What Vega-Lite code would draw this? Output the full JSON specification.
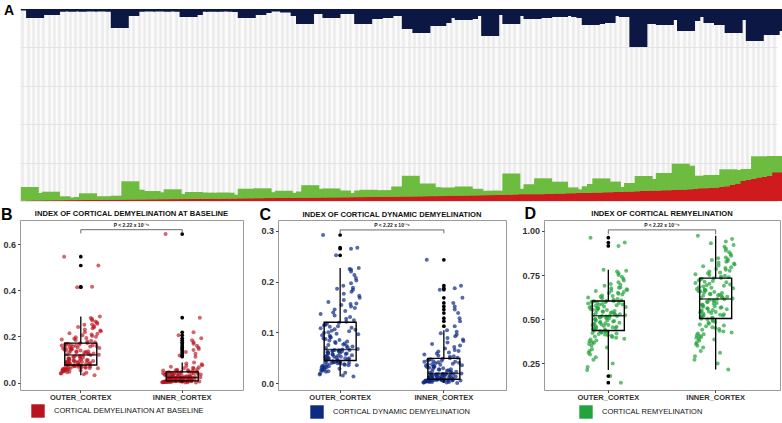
{
"$schema": "https://vega.github.io/schema/vega-lite/v6.json",
"padding": {"left": 0, "top": 3, "right": 0, "bottom": 0},
"config": {
  "font": "Liberation Sans",
  "view": {"stroke": "#9a9a9a", "strokeWidth": 1},
  "axis": {"labelFont": "Liberation Sans", "labelFontWeight": "bold", "labelColor": "#333333", "tickColor": "#444444", "tickSize": 2.5, "domain": false, "grid": false, "titleFont": "Liberation Sans"},
  "legend": {"symbolType": "square", "symbolSize": 180, "symbolOpacity": 1, "symbolStrokeWidth": 0, "labelFont": "Liberation Sans", "labelFontSize": 7.5, "labelColor": "#111111", "labelOffset": 9, "padding": 0},
  "title": {"font": "Liberation Sans", "fontSize": 7.6, "fontWeight": "bold", "color": "#111111", "offset": -12}
},
"datasets": {"pat": [
{"id":1,"r":0.4,"g":13.6,"n":1.5,"bo":0.032,"bi":0.001,"co":0.013,"ci":0,"ro":0.141,"ri":0.216},
{"id":2,"r":0.4,"g":7.6,"n":9,"bo":0.036,"bi":0.001,"co":0.015,"ci":0.001,"ro":0.178,"ri":0.25},
{"id":3,"r":0.5,"g":0.8,"n":1.5,"bo":0.039,"bi":0.002,"co":0.017,"ci":0.001,"ro":0.212,"ri":0.27},
{"id":4,"r":0.5,"g":1.5,"n":2.5,"bo":0.041,"bi":0.002,"co":0.019,"ci":0.001,"ro":0.23,"ri":0.29},
{"id":5,"r":0.6,"g":8.7,"n":6,"bo":0.043,"bi":0.002,"co":0.02,"ci":0.002,"ro":0.25,"ri":0.31},
{"id":6,"r":0.6,"g":3.4,"n":2.5,"bo":0.045,"bi":0.003,"co":0.022,"ci":0.002,"ro":0.27,"ri":0.32},
{"id":7,"r":0.7,"g":4.0,"n":1.5,"bo":0.047,"bi":0.003,"co":0.023,"ci":0.002,"ro":0.285,"ri":0.34},
{"id":8,"r":0.7,"g":2.6,"n":2.5,"bo":0.048,"bi":0.003,"co":0.024,"ci":0.003,"ro":0.3,"ri":0.35},
{"id":9,"r":0.8,"g":2.2,"n":2,"bo":0.05,"bi":0.003,"co":0.025,"ci":0.003,"ro":0.31,"ri":0.36},
{"id":10,"r":0.8,"g":2.5,"n":2.5,"bo":0.051,"bi":0.004,"co":0.026,"ci":0.003,"ro":0.32,"ri":0.37},
{"id":11,"r":0.9,"g":3.1,"n":1.5,"bo":0.053,"bi":0.004,"co":0.027,"ci":0.003,"ro":0.33,"ri":0.38},
{"id":12,"r":0.9,"g":6.8,"n":2.5,"bo":0.054,"bi":0.004,"co":0.028,"ci":0.004,"ro":0.34,"ri":0.385},
{"id":13,"r":1.0,"g":3.0,"n":2,"bo":0.055,"bi":0.004,"co":0.029,"ci":0.004,"ro":0.35,"ri":0.39},
{"id":14,"r":1.0,"g":2.3,"n":1.5,"bo":0.056,"bi":0.004,"co":0.03,"ci":0.004,"ro":0.36,"ri":0.395},
{"id":15,"r":1.1,"g":3.6,"n":2.5,"bo":0.057,"bi":0.005,"co":0.031,"ci":0.004,"ro":0.365,"ri":0.4},
{"id":16,"r":1.1,"g":3.2,"n":1.5,"bo":0.058,"bi":0.005,"co":0.032,"ci":0.004,"ro":0.37,"ri":0.405},
{"id":17,"r":1.2,"g":2.5,"n":2.5,"bo":0.059,"bi":0.005,"co":0.033,"ci":0.005,"ro":0.375,"ri":0.41},
{"id":18,"r":1.2,"g":4.1,"n":19,"bo":0.06,"bi":0.005,"co":0.033,"ci":0.005,"ro":0.38,"ri":0.415},
{"id":19,"r":1.3,"g":2.7,"n":2.5,"bo":0.061,"bi":0.005,"co":0.034,"ci":0.005,"ro":0.385,"ri":0.42},
{"id":20,"r":1.3,"g":18.4,"n":7,"bo":0.062,"bi":0.005,"co":0.035,"ci":0.005,"ro":0.39,"ri":0.425},
{"id":21,"r":1.4,"g":9.9,"n":2.5,"bo":0.063,"bi":0.006,"co":0.035,"ci":0.005,"ro":0.395,"ri":0.43},
{"id":22,"r":1.4,"g":8.6,"n":2,"bo":0.064,"bi":0.006,"co":0.036,"ci":0.005,"ro":0.4,"ri":0.435},
{"id":23,"r":1.5,"g":3.8,"n":2.5,"bo":0.065,"bi":0.006,"co":0.037,"ci":0.006,"ro":0.403,"ri":0.44},
{"id":24,"r":1.5,"g":8.5,"n":2,"bo":0.066,"bi":0.006,"co":0.037,"ci":0.006,"ro":0.406,"ri":0.445},
{"id":25,"r":1.6,"g":7.1,"n":1.5,"bo":0.067,"bi":0.006,"co":0.038,"ci":0.006,"ro":0.41,"ri":0.45},
{"id":26,"r":1.6,"g":6.1,"n":2.5,"bo":0.068,"bi":0.006,"co":0.039,"ci":0.006,"ro":0.413,"ri":0.455},
{"id":27,"r":1.7,"g":4.6,"n":2,"bo":0.069,"bi":0.006,"co":0.039,"ci":0.006,"ro":0.416,"ri":0.46},
{"id":28,"r":1.7,"g":10.0,"n":2.5,"bo":0.07,"bi":0.007,"co":0.04,"ci":0.006,"ro":0.419,"ri":0.465},
{"id":29,"r":1.8,"g":3.2,"n":1.5,"bo":0.071,"bi":0.007,"co":0.04,"ci":0.006,"ro":0.422,"ri":0.47},
{"id":30,"r":1.8,"g":5.2,"n":2.5,"bo":0.072,"bi":0.007,"co":0.041,"ci":0.007,"ro":0.425,"ri":0.475},
{"id":31,"r":1.9,"g":5.1,"n":8,"bo":0.072,"bi":0.007,"co":0.041,"ci":0.007,"ro":0.427,"ri":0.48},
{"id":32,"r":1.9,"g":7.1,"n":6,"bo":0.073,"bi":0.007,"co":0.042,"ci":0.007,"ro":0.429,"ri":0.485},
{"id":33,"r":2.0,"g":6.3,"n":2.5,"bo":0.074,"bi":0.007,"co":0.042,"ci":0.007,"ro":0.431,"ri":0.49},
{"id":34,"r":2.0,"g":6.3,"n":2,"bo":0.075,"bi":0.007,"co":0.043,"ci":0.007,"ro":0.433,"ri":0.495},
{"id":35,"r":2.1,"g":4.9,"n":2.5,"bo":0.075,"bi":0.007,"co":0.043,"ci":0.007,"ro":0.434,"ri":0.5},
{"id":36,"r":2.1,"g":3.6,"n":2.5,"bo":0.076,"bi":0.007,"co":0.044,"ci":0.007,"ro":0.435,"ri":0.503},
{"id":37,"r":2.2,"g":6.1,"n":2,"bo":0.077,"bi":0.008,"co":0.045,"ci":0.008,"ro":0.437,"ri":0.505},
{"id":38,"r":2.2,"g":6.1,"n":2.5,"bo":0.078,"bi":0.008,"co":0.045,"ci":0.008,"ro":0.44,"ri":0.508},
{"id":39,"r":2.3,"g":3.4,"n":2,"bo":0.079,"bi":0.009,"co":0.046,"ci":0.008,"ro":0.442,"ri":0.511},
{"id":40,"r":2.3,"g":3.4,"n":2.5,"bo":0.08,"bi":0.009,"co":0.046,"ci":0.009,"ro":0.445,"ri":0.514},
{"id":41,"r":2.4,"g":3.9,"n":3,"bo":0.081,"bi":0.01,"co":0.047,"ci":0.009,"ro":0.447,"ri":0.517},
{"id":42,"r":2.5,"g":9.8,"n":9,"bo":0.082,"bi":0.01,"co":0.047,"ci":0.009,"ro":0.45,"ri":0.52},
{"id":43,"r":2.6,"g":4.1,"n":2.5,"bo":0.083,"bi":0.011,"co":0.048,"ci":0.01,"ro":0.452,"ri":0.523},
{"id":44,"r":2.6,"g":8.7,"n":6,"bo":0.084,"bi":0.011,"co":0.049,"ci":0.01,"ro":0.455,"ri":0.526},
{"id":45,"r":2.7,"g":10.0,"n":4,"bo":0.085,"bi":0.012,"co":0.049,"ci":0.01,"ro":0.457,"ri":0.529},
{"id":46,"r":2.8,"g":4.0,"n":2,"bo":0.086,"bi":0.012,"co":0.05,"ci":0.011,"ro":0.46,"ri":0.532},
{"id":47,"r":2.9,"g":5.9,"n":1.5,"bo":0.087,"bi":0.013,"co":0.05,"ci":0.011,"ro":0.462,"ri":0.535},
{"id":48,"r":2.9,"g":3.3,"n":2.5,"bo":0.088,"bi":0.013,"co":0.051,"ci":0.011,"ro":0.465,"ri":0.538},
{"id":49,"r":3.0,"g":7.2,"n":2,"bo":0.089,"bi":0.014,"co":0.052,"ci":0.012,"ro":0.467,"ri":0.541},
{"id":50,"r":3.0,"g":5.2,"n":3.5,"bo":0.09,"bi":0.014,"co":0.052,"ci":0.012,"ro":0.47,"ri":0.544},
{"id":51,"r":3.1,"g":3.4,"n":2,"bo":0.091,"bi":0.015,"co":0.053,"ci":0.012,"ro":0.472,"ri":0.547},
{"id":52,"r":3.1,"g":3.7,"n":7,"bo":0.092,"bi":0.015,"co":0.054,"ci":0.013,"ro":0.475,"ri":0.55},
{"id":53,"r":3.2,"g":6.3,"n":15,"bo":0.093,"bi":0.015,"co":0.054,"ci":0.013,"ro":0.477,"ri":0.553},
{"id":54,"r":3.2,"g":12.6,"n":4,"bo":0.094,"bi":0.016,"co":0.055,"ci":0.013,"ro":0.48,"ri":0.556},
{"id":55,"r":3.3,"g":4.9,"n":5,"bo":0.095,"bi":0.016,"co":0.056,"ci":0.014,"ro":0.482,"ri":0.559},
{"id":56,"r":3.3,"g":4.9,"n":4,"bo":0.096,"bi":0.017,"co":0.056,"ci":0.014,"ro":0.485,"ri":0.562},
{"id":57,"r":3.4,"g":8.8,"n":3,"bo":0.097,"bi":0.017,"co":0.057,"ci":0.014,"ro":0.487,"ri":0.565},
{"id":58,"r":3.4,"g":9.1,"n":9,"bo":0.098,"bi":0.017,"co":0.058,"ci":0.015,"ro":0.49,"ri":0.568},
{"id":59,"r":3.5,"g":4.0,"n":3,"bo":0.099,"bi":0.018,"co":0.058,"ci":0.015,"ro":0.492,"ri":0.571},
{"id":60,"r":3.5,"g":7.0,"n":4,"bo":0.1,"bi":0.018,"co":0.059,"ci":0.015,"ro":0.495,"ri":0.574},
{"id":61,"r":3.6,"g":3.9,"n":5,"bo":0.102,"bi":0.018,"co":0.06,"ci":0.016,"ro":0.497,"ri":0.577},
{"id":62,"r":3.6,"g":3.9,"n":4,"bo":0.104,"bi":0.019,"co":0.06,"ci":0.016,"ro":0.5,"ri":0.58},
{"id":63,"r":3.7,"g":3.8,"n":5,"bo":0.105,"bi":0.019,"co":0.061,"ci":0.016,"ro":0.502,"ri":0.584},
{"id":64,"r":3.8,"g":6.7,"n":15,"bo":0.107,"bi":0.019,"co":0.062,"ci":0.017,"ro":0.505,"ri":0.588},
{"id":65,"r":3.8,"g":7.4,"n":6,"bo":0.108,"bi":0.02,"co":0.062,"ci":0.017,"ro":0.507,"ri":0.592},
{"id":66,"r":3.9,"g":4.9,"n":10,"bo":0.11,"bi":0.02,"co":0.063,"ci":0.017,"ro":0.51,"ri":0.596},
{"id":67,"r":4.0,"g":4.8,"n":7,"bo":0.112,"bi":0.02,"co":0.063,"ci":0.017,"ro":0.512,"ri":0.6},
{"id":68,"r":4.0,"g":6.8,"n":9,"bo":0.114,"bi":0.021,"co":0.064,"ci":0.018,"ro":0.514,"ri":0.604},
{"id":69,"r":4.1,"g":6.4,"n":5,"bo":0.115,"bi":0.021,"co":0.064,"ci":0.018,"ro":0.516,"ri":0.607},
{"id":70,"r":4.2,"g":5.3,"n":7,"bo":0.117,"bi":0.021,"co":0.065,"ci":0.018,"ro":0.518,"ri":0.61},
{"id":71,"r":4.2,"g":10.3,"n":4,"bo":0.119,"bi":0.021,"co":0.065,"ci":0.018,"ro":0.519,"ri":0.613},
{"id":72,"r":4.3,"g":7.5,"n":5,"bo":0.12,"bi":0.022,"co":0.066,"ci":0.019,"ro":0.52,"ri":0.615},
{"id":73,"r":4.4,"g":20.8,"n":20,"bo":0.121,"bi":0.023,"co":0.067,"ci":0.019,"ro":0.522,"ri":0.618},
{"id":74,"r":4.4,"g":3.4,"n":7,"bo":0.123,"bi":0.023,"co":0.069,"ci":0.02,"ro":0.524,"ri":0.621},
{"id":75,"r":4.5,"g":9.7,"n":24,"bo":0.124,"bi":0.024,"co":0.07,"ci":0.021,"ro":0.527,"ri":0.624},
{"id":76,"r":4.6,"g":12.9,"n":12,"bo":0.126,"bi":0.024,"co":0.072,"ci":0.022,"ro":0.529,"ri":0.627},
{"id":77,"r":4.7,"g":9.1,"n":7,"bo":0.127,"bi":0.025,"co":0.073,"ci":0.022,"ro":0.532,"ri":0.63},
{"id":78,"r":4.8,"g":4.0,"n":17,"bo":0.129,"bi":0.025,"co":0.075,"ci":0.023,"ro":0.534,"ri":0.633},
{"id":79,"r":4.8,"g":7.7,"n":14,"bo":0.13,"bi":0.026,"co":0.076,"ci":0.024,"ro":0.537,"ri":0.636},
{"id":80,"r":4.9,"g":8.6,"n":6,"bo":0.132,"bi":0.027,"co":0.078,"ci":0.025,"ro":0.539,"ri":0.639},
{"id":81,"r":5.0,"g":5.5,"n":4,"bo":0.133,"bi":0.027,"co":0.079,"ci":0.026,"ro":0.542,"ri":0.642},
{"id":82,"r":5.1,"g":5.4,"n":9,"bo":0.135,"bi":0.028,"co":0.081,"ci":0.027,"ro":0.544,"ri":0.645},
{"id":83,"r":5.2,"g":9.3,"n":11,"bo":0.136,"bi":0.029,"co":0.082,"ci":0.027,"ro":0.547,"ri":0.648},
{"id":84,"r":5.3,"g":4.2,"n":10,"bo":0.138,"bi":0.029,"co":0.084,"ci":0.028,"ro":0.549,"ri":0.651},
{"id":85,"r":5.4,"g":6.8,"n":7,"bo":0.139,"bi":0.03,"co":0.085,"ci":0.029,"ro":0.552,"ri":0.654},
{"id":86,"r":5.5,"g":3.3,"n":5,"bo":0.141,"bi":0.031,"co":0.087,"ci":0.03,"ro":0.554,"ri":0.657},
{"id":87,"r":5.6,"g":2.9,"n":3,"bo":0.142,"bi":0.031,"co":0.088,"ci":0.031,"ro":0.557,"ri":0.66},
{"id":88,"r":5.7,"g":4.5,"n":27,"bo":0.144,"bi":0.032,"co":0.09,"ci":0.032,"ro":0.559,"ri":0.663},
{"id":89,"r":5.8,"g":4.4,"n":6,"bo":0.145,"bi":0.033,"co":0.091,"ci":0.032,"ro":0.562,"ri":0.666},
{"id":90,"r":5.9,"g":4.3,"n":4,"bo":0.147,"bi":0.033,"co":0.093,"ci":0.033,"ro":0.564,"ri":0.669},
{"id":91,"r":6.0,"g":2.5,"n":5,"bo":0.148,"bi":0.034,"co":0.094,"ci":0.034,"ro":0.567,"ri":0.672},
{"id":92,"r":6.1,"g":21.4,"n":15,"bo":0.15,"bi":0.035,"co":0.096,"ci":0.035,"ro":0.569,"ri":0.675},
{"id":93,"r":6.3,"g":5.9,"n":7,"bo":0.151,"bi":0.035,"co":0.097,"ci":0.036,"ro":0.572,"ri":0.678},
{"id":94,"r":6.5,"g":3.0,"n":5,"bo":0.153,"bi":0.036,"co":0.099,"ci":0.037,"ro":0.574,"ri":0.681},
{"id":95,"r":6.7,"g":4.0,"n":3,"bo":0.154,"bi":0.037,"co":0.1,"ci":0.037,"ro":0.577,"ri":0.685},
{"id":96,"r":6.7,"g":10.0,"n":10,"bo":0.156,"bi":0.038,"co":0.102,"ci":0.038,"ro":0.579,"ri":0.689},
{"id":97,"r":6.7,"g":4.7,"n":4,"bo":0.157,"bi":0.038,"co":0.103,"ci":0.039,"ro":0.582,"ri":0.693},
{"id":98,"r":6.7,"g":16.0,"n":9,"bo":0.158,"bi":0.039,"co":0.105,"ci":0.04,"ro":0.584,"ri":0.697},
{"id":99,"r":6.7,"g":5.3,"n":5,"bo":0.16,"bi":0.04,"co":0.106,"ci":0.041,"ro":0.587,"ri":0.701},
{"id":100,"r":7.0,"g":1.7,"n":7,"bo":0.161,"bi":0.04,"co":0.108,"ci":0.042,"ro":0.589,"ri":0.705},
{"id":101,"r":7.0,"g":12.3,"n":8,"bo":0.162,"bi":0.041,"co":0.109,"ci":0.042,"ro":0.592,"ri":0.709},
{"id":102,"r":7.3,"g":4.3,"n":7,"bo":0.163,"bi":0.042,"co":0.111,"ci":0.043,"ro":0.594,"ri":0.713},
{"id":103,"r":7.3,"g":6.3,"n":2,"bo":0.164,"bi":0.043,"co":0.112,"ci":0.044,"ro":0.596,"ri":0.717},
{"id":104,"r":7.7,"g":3.0,"n":7,"bo":0.166,"bi":0.043,"co":0.114,"ci":0.045,"ro":0.598,"ri":0.721},
{"id":105,"r":7.7,"g":3.3,"n":8,"bo":0.167,"bi":0.044,"co":0.115,"ci":0.046,"ro":0.6,"ri":0.725},
{"id":106,"r":8.0,"g":3.7,"n":9,"bo":0.168,"bi":0.045,"co":0.117,"ci":0.047,"ro":0.602,"ri":0.729},
{"id":107,"r":8.0,"g":6.7,"n":16,"bo":0.17,"bi":0.046,"co":0.119,"ci":0.048,"ro":0.603,"ri":0.732},
{"id":108,"r":8.0,"g":9.0,"n":15,"bo":0.172,"bi":0.047,"co":0.121,"ci":0.049,"ro":0.604,"ri":0.734},
{"id":109,"r":8.3,"g":14.3,"n":5,"bo":0.175,"bi":0.048,"co":0.124,"ci":0.05,"ro":0.607,"ri":0.738},
{"id":110,"r":8.3,"g":9.0,"n":14,"bo":0.178,"bi":0.049,"co":0.127,"ci":0.052,"ro":0.611,"ri":0.742},
{"id":111,"r":8.7,"g":10.7,"n":6,"bo":0.181,"bi":0.05,"co":0.13,"ci":0.053,"ro":0.615,"ri":0.746},
{"id":112,"r":8.7,"g":5.3,"n":7,"bo":0.184,"bi":0.051,"co":0.133,"ci":0.054,"ro":0.619,"ri":0.75},
{"id":113,"r":9.0,"g":1.7,"n":7,"bo":0.187,"bi":0.052,"co":0.136,"ci":0.056,"ro":0.623,"ri":0.755},
{"id":114,"r":9.0,"g":5.0,"n":8,"bo":0.19,"bi":0.053,"co":0.139,"ci":0.058,"ro":0.627,"ri":0.76},
{"id":115,"r":9.3,"g":8.7,"n":3,"bo":0.193,"bi":0.055,"co":0.142,"ci":0.06,"ro":0.631,"ri":0.765},
{"id":116,"r":9.3,"g":5.3,"n":38,"bo":0.196,"bi":0.056,"co":0.145,"ci":0.062,"ro":0.635,"ri":0.77},
{"id":117,"r":9.7,"g":15.3,"n":13,"bo":0.199,"bi":0.058,"co":0.148,"ci":0.063,"ro":0.64,"ri":0.775},
{"id":118,"r":10.0,"g":12.0,"n":15,"bo":0.202,"bi":0.06,"co":0.151,"ci":0.065,"ro":0.645,"ri":0.78},
{"id":119,"r":10.0,"g":7.3,"n":3,"bo":0.205,"bi":0.062,"co":0.154,"ci":0.068,"ro":0.648,"ri":0.785},
{"id":120,"r":10.3,"g":11.7,"n":10,"bo":0.208,"bi":0.064,"co":0.156,"ci":0.071,"ro":0.65,"ri":0.79},
{"id":121,"r":10.3,"g":17.7,"n":16,"bo":0.211,"bi":0.066,"co":0.157,"ci":0.074,"ro":0.655,"ri":0.795},
{"id":122,"r":10.7,"g":4.0,"n":6,"bo":0.214,"bi":0.069,"co":0.16,"ci":0.077,"ro":0.66,"ri":0.8},
{"id":123,"r":10.7,"g":8.0,"n":3,"bo":0.218,"bi":0.072,"co":0.164,"ci":0.08,"ro":0.662,"ri":0.805},
{"id":124,"r":11.0,"g":26.3,"n":11,"bo":0.222,"bi":0.075,"co":0.168,"ci":0.083,"ro":0.665,"ri":0.81},
{"id":125,"r":11.3,"g":24.0,"n":22,"bo":0.226,"bi":0.079,"co":0.172,"ci":0.086,"ro":0.67,"ri":0.815},
{"id":126,"r":11.3,"g":8.0,"n":12,"bo":0.23,"bi":0.083,"co":0.176,"ci":0.089,"ro":0.675,"ri":0.82},
{"id":127,"r":11.7,"g":12.3,"n":4,"bo":0.235,"bi":0.087,"co":0.18,"ci":0.092,"ro":0.678,"ri":0.825},
{"id":128,"r":12.0,"g":13.3,"n":6,"bo":0.24,"bi":0.112,"co":0.184,"ci":0.095,"ro":0.68,"ri":0.83},
{"id":129,"r":12.7,"g":6.0,"n":8,"bo":0.241,"bi":0.117,"co":0.186,"ci":0.098,"ro":0.69,"ri":0.835},
{"id":130,"r":12.7,"g":13.3,"n":14,"bo":0.245,"bi":0.125,"co":0.188,"ci":0.101,"ro":0.695,"ri":0.84},
{"id":131,"r":13.0,"g":7.7,"n":10,"bo":0.25,"bi":0.133,"co":0.192,"ci":0.104,"ro":0.7,"ri":0.845},
{"id":132,"r":13.3,"g":12.0,"n":16,"bo":0.252,"bi":0.141,"co":0.197,"ci":0.112,"ro":0.71,"ri":0.85},
{"id":133,"r":14.0,"g":17.7,"n":9,"bo":0.255,"bi":0.146,"co":0.202,"ci":0.122,"ro":0.72,"ri":0.86},
{"id":134,"r":14.7,"g":16.3,"n":24,"bo":0.26,"bi":0.152,"co":0.207,"ci":0.128,"ro":0.73,"ri":0.87},
{"id":135,"r":16.0,"g":14.7,"n":11,"bo":0.265,"bi":0.16,"co":0.213,"ci":0.138,"ro":0.74,"ri":0.88},
{"id":136,"r":17.3,"g":12.0,"n":8,"bo":0.27,"bi":0.168,"co":0.22,"ci":0.145,"ro":0.75,"ri":0.89},
{"id":137,"r":20.0,"g":12.0,"n":11,"bo":0.275,"bi":0.175,"co":0.224,"ci":0.151,"ro":0.76,"ri":0.9},
{"id":138,"r":21.0,"g":10.3,"n":32,"bo":0.28,"bi":0.183,"co":0.225,"ci":0.158,"ro":0.77,"ri":0.91},
{"id":139,"r":22.0,"g":22.7,"n":17,"bo":0.286,"bi":0.192,"co":0.227,"ci":0.168,"ro":0.775,"ri":0.92},
{"id":140,"r":23.3,"g":5.7,"n":17,"bo":0.413,"bi":0.205,"co":0.252,"ci":0.184,"ro":0.78,"ri":0.93},
{"id":141,"r":24.0,"g":12.0,"n":26,"bo":0.415,"bi":0.218,"co":0.265,"ci":0.187,"ro":0.915,"ri":0.94},
{"id":142,"r":25.0,"g":20.0,"n":14,"bo":0.507,"bi":0.281,"co":0.267,"ci":0.192,"ro":0.934,"ri":0.955},
{"id":143,"r":28.7,"g":2.7,"n":22,"bo":0.545,"bi":0.643,"co":0.292,"ci":0.243,"ro":0.962,"ri":0.973}
]},
"concat": [
  {
    "width": 757, "height": 192,
    "view": {"fill": "#fafafa", "stroke": null},
    "data": {"name": "pat"},
    "layer": [
      {
        "transform": [{"fold": ["r", "g"], "as": ["series", "h"]}],
        "mark": {"type": "bar"},
        "encoding": {
          "x": {"field": "id", "type": "ordinal", "scale": {"paddingInner": 0.25, "paddingOuter": 0.15},
                "axis": {"labels": false, "ticks": false, "domain": false, "title": null, "grid": true, "gridColor": "#ebebeb", "gridWidth": 2.5, "bandPosition": 0.5}},
          "y": {"field": "h", "type": "quantitative", "stack": "zero", "scale": {"domain": [0, 192], "nice": false},
                "axis": {"values": [0, 38.4, 76.8, 115.2, 153.6, 192], "labels": false, "ticks": false, "domain": false, "grid": true, "gridColor": "#e4e4e4", "gridWidth": 1,
                         "title": "A", "titleAngle": 0, "titleX": -16.5, "titleY": 5, "titleAlign": "left", "titleBaseline": "alphabetic", "titleFontSize": 14, "titleFontWeight": "bold", "titleColor": "#000000"}},
          "color": {"field": "series", "type": "nominal", "scale": {"domain": ["r", "g"], "range": ["#cf1b1d", "#6dbb3f"]}, "legend": null},
          "order": {"field": "series", "sort": "descending"}
        }
      },
      {
        "mark": {"type": "bar", "color": "#0c1744"},
        "encoding": {
          "x": {"field": "id", "type": "ordinal"},
          "y": {"field": "n", "type": "quantitative", "scale": {"domain": [0, 192], "reverse": true, "nice": false, "zero": true}, "axis": null},
          "y2": {"datum": 0}
        }
      }
    ],
    "resolve": {"scale": {"y": "independent"}}
  },
  {
    "hconcat": [
      {
        "width": 223, "height": 170,
        "title": "INDEX OF CORTICAL DEMYELINATION AT BASELINE",
        "data": {"name": "pat"},
        "transform": [{"fold": ["bo", "bi"], "as": ["cortex", "value"]}],
        "layer": [
          {
            "mark": {"type": "circle", "size": 16, "opacity": 0.65},
            "encoding": {
              "x": {"field": "cortex", "type": "nominal", "scale": {"type": "band", "domain": ["bo", "bi"], "paddingInner": 0.6055, "paddingOuter": 0.402},
                    "axis": {"title": null, "labelAngle": 0, "labelFontSize": 7.5, "labelPadding": 1, "labelExpr": "datum.value == 'bo' ? 'OUTER_CORTEX' : 'INNER_CORTEX'"}},
              "xOffset": {"field": "g", "type": "ordinal", "scale": {"paddingInner": 0, "paddingOuter": 0}},
              "y": {"field": "value", "type": "quantitative", "title": "B", "scale": {"domain": [-0.032, 0.704], "nice": false, "zero": false},
                    "axis": {"values": [0, 0.2, 0.4, 0.6], "format": ".1f", "labelFontSize": 9, "labelPadding": 2,
                             "titleAngle": 0, "titleX": -19.5, "titleY": -1, "titleAlign": "left", "titleBaseline": "alphabetic", "titleFontSize": 16, "titleFontWeight": "bold", "titleColor": "#000000"}},
              "color": {"datum": "CORTICAL DEMYELINATION AT BASELINE", "type": "nominal", "scale": {"range": ["#b8141f"]},
                        "legend": {"title": null, "orient": "none", "legendX": 11, "legendY": 184, "symbolOpacity": 1}}
            }
          },
          {
            "mark": {"type": "boxplot", "extent": 1.5, "size": 32,
                     "box": {"fill": "transparent", "stroke": "#000000", "strokeWidth": 1.4},
                     "median": {"color": "#000000", "thickness": 1.5},
                     "rule": {"color": "#000000", "strokeWidth": 1.3},
                     "outliers": {"color": "#000000", "filled": true, "size": 14, "opacity": 1}},
            "encoding": {
              "x": {"field": "cortex", "type": "nominal"},
              "y": {"field": "value", "type": "quantitative", "title": "B"}
            }
          },
          {
            "data": {"values": [{"c": "bo"}, {"c": "bi"}]},
            "mark": {"type": "rule", "color": "#444444", "strokeWidth": 0.8},
            "encoding": {
              "x": {"field": "c", "type": "nominal"},
              "y": {"datum": 0.646, "type": "quantitative"},
              "y2": {"datum": 0.662}
            }
          },
          {
            "data": {"values": [{}]},
            "mark": {"type": "rule", "color": "#444444", "strokeWidth": 0.8},
            "encoding": {
              "x": {"datum": "bo", "type": "nominal"},
              "x2": {"datum": "bi"},
              "y": {"datum": 0.662, "type": "quantitative"}
            }
          },
          {
            "data": {"values": [{}]},
            "mark": {"type": "text", "text": "P < 2.22 x 10⁻¹⁶", "fontSize": 5, "fontWeight": "bold", "baseline": "bottom", "color": "#222222"},
            "encoding": {"y": {"datum": 0.669, "type": "quantitative"}}
          }
        ]
      },
      {
        "width": 228, "height": 170,
        "title": "INDEX OF CORTICAL DYNAMIC DEMYELINATION",
        "data": {"name": "pat"},
        "transform": [{"fold": ["co", "ci"], "as": ["cortex", "value"]}],
        "layer": [
          {
            "mark": {"type": "circle", "size": 16, "opacity": 0.7},
            "encoding": {
              "x": {"field": "cortex", "type": "nominal", "scale": {"type": "band", "domain": ["co", "ci"], "paddingInner": 0.6055, "paddingOuter": 0.402},
                    "axis": {"title": null, "labelAngle": 0, "labelFontSize": 7.5, "labelPadding": 1, "labelExpr": "datum.value == 'co' ? 'OUTER_CORTEX' : 'INNER_CORTEX'"}},
              "xOffset": {"field": "g", "type": "ordinal", "sort": "descending", "scale": {"paddingInner": 0, "paddingOuter": 0}},
              "y": {"field": "value", "type": "quantitative", "title": "C", "scale": {"domain": [-0.0138, 0.3216], "nice": false, "zero": false},
                    "axis": {"values": [0, 0.1, 0.2, 0.3], "format": ".1f", "labelFontSize": 9, "labelPadding": 2,
                             "titleAngle": 0, "titleX": -19, "titleY": -0.5, "titleAlign": "left", "titleBaseline": "alphabetic", "titleFontSize": 16, "titleFontWeight": "bold", "titleColor": "#000000"}},
              "color": {"datum": "CORTICAL DYNAMIC DEMYELINATION", "type": "nominal", "scale": {"range": ["#0f2a82"]},
                        "legend": {"title": null, "orient": "none", "legendX": 32, "legendY": 185, "symbolOpacity": 1}}
            }
          },
          {
            "mark": {"type": "boxplot", "extent": 1.5, "size": 32,
                     "box": {"fill": "transparent", "stroke": "#000000", "strokeWidth": 1.4},
                     "median": {"color": "#000000", "thickness": 1.5},
                     "rule": {"color": "#000000", "strokeWidth": 1.3},
                     "outliers": {"color": "#000000", "filled": true, "size": 14, "opacity": 1}},
            "encoding": {
              "x": {"field": "cortex", "type": "nominal"},
              "y": {"field": "value", "type": "quantitative", "title": "C"}
            }
          },
          {
            "data": {"values": [{"c": "co"}, {"c": "ci"}]},
            "mark": {"type": "rule", "color": "#444444", "strokeWidth": 0.8},
            "encoding": {
              "x": {"field": "c", "type": "nominal"},
              "y": {"datum": 0.2955, "type": "quantitative"},
              "y2": {"datum": 0.302}
            }
          },
          {
            "data": {"values": [{}]},
            "mark": {"type": "rule", "color": "#444444", "strokeWidth": 0.8},
            "encoding": {
              "x": {"datum": "co", "type": "nominal"},
              "x2": {"datum": "ci"},
              "y": {"datum": 0.302, "type": "quantitative"}
            }
          },
          {
            "data": {"values": [{}]},
            "mark": {"type": "text", "text": "P < 2.22 x 10⁻¹⁶", "fontSize": 5, "fontWeight": "bold", "baseline": "bottom", "color": "#222222"},
            "encoding": {"y": {"datum": 0.305, "type": "quantitative"}}
          }
        ]
      },
      {
        "width": 236, "height": 170,
        "title": "INDEX OF CORTICAL REMYELINATION",
        "data": {"name": "pat"},
        "transform": [{"fold": ["ro", "ri"], "as": ["cortex", "value"]}],
        "layer": [
          {
            "mark": {"type": "circle", "size": 16, "opacity": 0.7},
            "encoding": {
              "x": {"field": "cortex", "type": "nominal", "scale": {"type": "band", "domain": ["ro", "ri"], "paddingInner": 0.6055, "paddingOuter": 0.402},
                    "axis": {"title": null, "labelAngle": 0, "labelFontSize": 7.5, "labelPadding": 1, "labelExpr": "datum.value == 'ro' ? 'OUTER_CORTEX' : 'INNER_CORTEX'"}},
              "xOffset": {"field": "g", "type": "ordinal", "scale": {"paddingInner": 0, "paddingOuter": 0}},
              "y": {"field": "value", "type": "quantitative", "title": "D", "scale": {"domain": [0.0994, 1.062], "nice": false, "zero": false},
                    "axis": {"values": [0.25, 0.5, 0.75, 1.0], "format": ".2f", "labelFontSize": 9, "labelPadding": 2,
                             "titleAngle": 0, "titleX": -20, "titleY": -1.5, "titleAlign": "left", "titleBaseline": "alphabetic", "titleFontSize": 16, "titleFontWeight": "bold", "titleColor": "#000000"}},
              "color": {"datum": "CORTICAL REMYELINATION", "type": "nominal", "scale": {"range": ["#22a33b"]},
                        "legend": {"title": null, "orient": "none", "legendX": 35, "legendY": 185, "symbolOpacity": 1}}
            }
          },
          {
            "mark": {"type": "boxplot", "extent": 1.5, "size": 32,
                     "box": {"fill": "transparent", "stroke": "#000000", "strokeWidth": 1.4},
                     "median": {"color": "#000000", "thickness": 1.5},
                     "rule": {"color": "#000000", "strokeWidth": 1.3},
                     "outliers": {"color": "#000000", "filled": true, "size": 14, "opacity": 1}},
            "encoding": {
              "x": {"field": "cortex", "type": "nominal"},
              "y": {"field": "value", "type": "quantitative", "title": "D"}
            }
          },
          {
            "data": {"values": [{"c": "ro"}, {"c": "ri"}]},
            "mark": {"type": "rule", "color": "#444444", "strokeWidth": 0.8},
            "encoding": {
              "x": {"field": "c", "type": "nominal"},
              "y": {"datum": 0.981, "type": "quantitative"},
              "y2": {"datum": 1.006}
            }
          },
          {
            "data": {"values": [{}]},
            "mark": {"type": "rule", "color": "#444444", "strokeWidth": 0.8},
            "encoding": {
              "x": {"datum": "ro", "type": "nominal"},
              "x2": {"datum": "ri"},
              "y": {"datum": 1.006, "type": "quantitative"}
            }
          },
          {
            "data": {"values": [{}]},
            "mark": {"type": "text", "text": "P < 2.22 x 10⁻¹⁶", "fontSize": 5, "fontWeight": "bold", "baseline": "bottom", "color": "#222222"},
            "encoding": {"y": {"datum": 1.016, "type": "quantitative"}}
          }
        ]
      }
    ],
    "spacing": 14,
    "resolve": {"scale": {"color": "independent"}, "legend": {"color": "independent"}}
  }
],
"columns": 1,
"align": "none",
"bounds": "full",
"spacing": 4,
"resolve": {"scale": {"color": "independent"}, "legend": {"color": "independent"}}
}
